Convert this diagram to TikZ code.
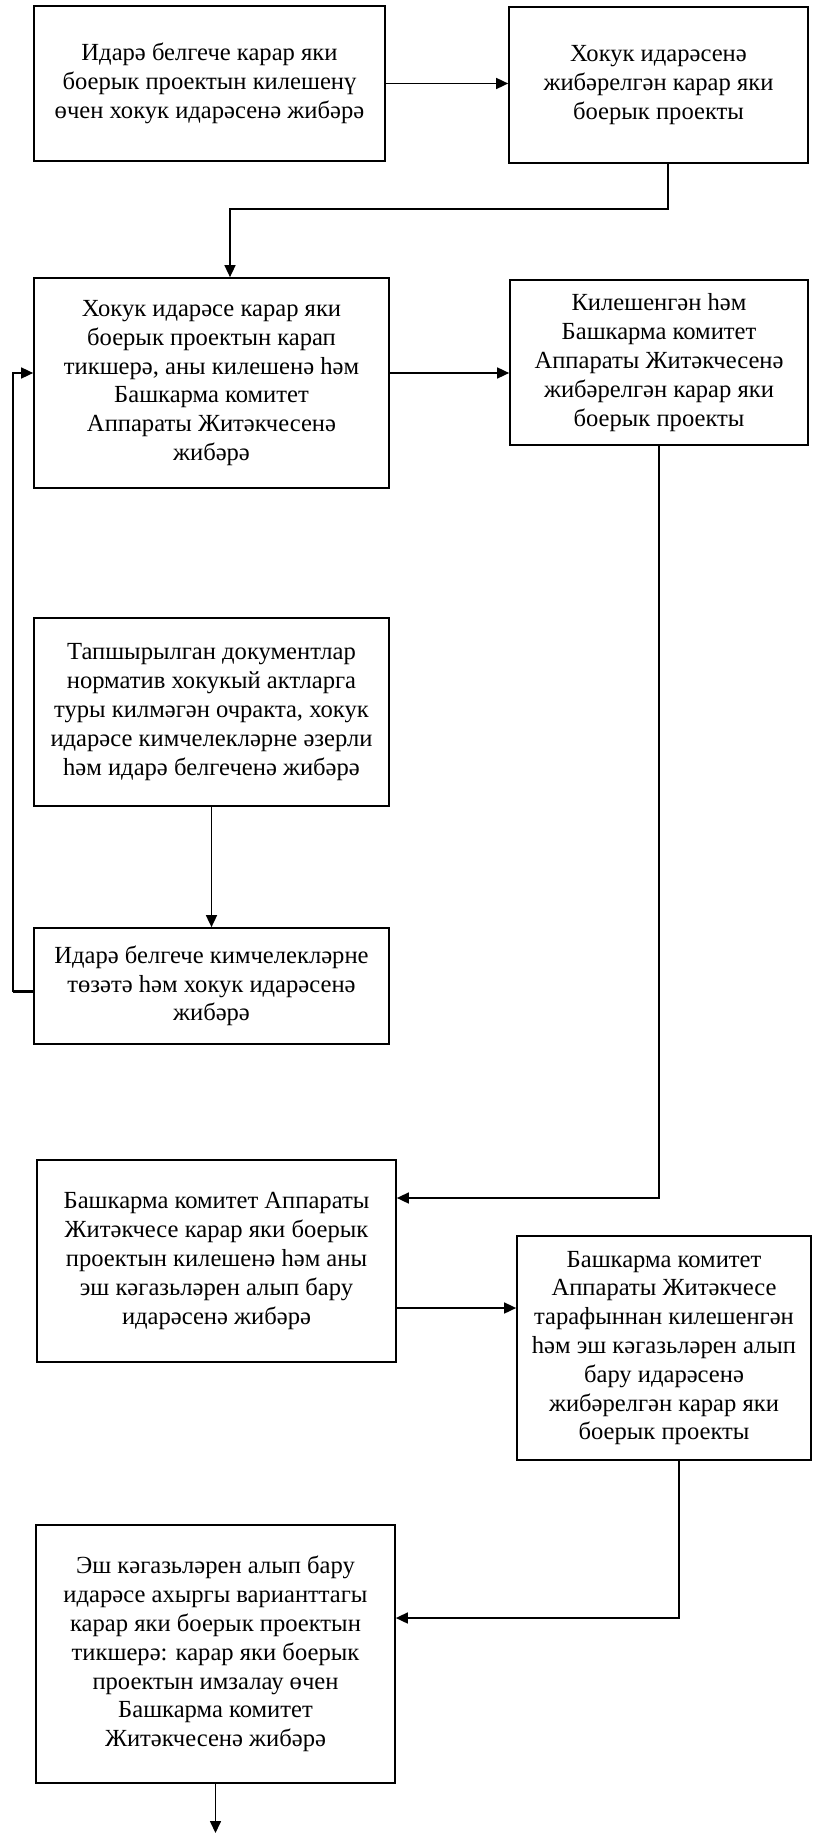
\documentclass[tikz,border=0pt]{standalone}
\usepackage{fontspec}
\setmainfont{Liberation Serif}
\usetikzlibrary{arrows.meta}
\begin{document}
\begin{tikzpicture}[x=0.5pt,y=-0.5pt,
  box/.style={draw=black, line width=0.85pt, align=center, inner sep=2pt,
    font=\fontsize{12.3}{14.4}\selectfont},
  arr/.style={draw=black, line width=0.8pt, -{Triangle[length=6pt,width=5.5pt]}}]
\useasboundingbox[fill=white] (0,0) rectangle (813,1834);

\node[box, minimum width=175.5pt, minimum height=77.5pt] (B1) at (209.5,83.5)
  {Идарә белгече карар яки\\боерык проектын килешенү\\өчен хокук идарәсенә жибәрә};
\node[box, minimum width=149.5pt, minimum height=78pt] (B2) at (658.5,85)
  {Хокук идарәсенә\\жибәрелгән карар яки\\боерык проекты};
\node[box, minimum width=177.5pt, minimum height=105pt] (B3) at (211.5,383)
  {Хокук идарәсе карар яки\\боерык проектын карап\\тикшерә, аны килешенә һәм\\Башкарма комитет\\Аппараты Житәкчесенә\\жибәрә};
\node[box, minimum width=149pt, minimum height=82.5pt] (B4) at (659,362.5)
  {Килешенгән һәм\\Башкарма комитет\\Аппараты Житәкчесенә\\жибәрелгән карар яки\\боерык проекты};
\node[box, minimum width=177.5pt, minimum height=94pt] (B5) at (211.5,712)
  {Тапшырылган документлар\\норматив хокукый актларга\\туры килмәгән очракта, хокук\\идарәсе кимчелекләрне әзерли\\һәм идарә белгеченә жибәрә};
\node[box, minimum width=177.5pt, minimum height=58pt] (B6) at (211.5,986)
  {Идарә белгече кимчелекләрне\\төзәтә һәм хокук идарәсенә\\жибәрә};
\node[box, minimum width=179.5pt, minimum height=101pt] (B7) at (216.5,1261)
  {Башкарма комитет Аппараты\\Житәкчесе карар яки боерык\\проектын килешенә һәм аны\\эш кәгазьләрен алып бару\\идарәсенә жибәрә};
\node[box, minimum width=147pt, minimum height=112pt] (B8) at (664,1348)
  {Башкарма комитет\\Аппараты Житәкчесе\\тарафыннан килешенгән\\һәм эш кәгазьләрен алып\\бару идарәсенә\\жибәрелгән карар яки\\боерык проекты};
\node[box, minimum width=179.5pt, minimum height=129pt] (B9) at (215.5,1654)
  {Эш кәгазьләрен алып бару\\идарәсе ахыргы варианттагы\\карар яки боерык проектын\\тикшерә: карар яки боерык\\проектын имзалау өчен\\Башкарма комитет\\Житәкчесенә жибәрә};

% helper coordinates
\coordinate (k1) at (668,209);
\coordinate (k2) at (230,0);
\coordinate (y373) at (0,373);
\coordinate (fb1) at (13,991);
\coordinate (fb2) at (13,373);
\coordinate (y991) at (0,991);
\coordinate (y1198) at (0,1198);
\coordinate (y1308) at (0,1308);
\coordinate (k3) at (679,1618);
\coordinate (endp) at (212,1833);

% connectors
\draw[arr] (B1.east) -- (B1.east -| B2.west);
\draw[arr] (B2.south -| k1) -- (k1) -| (B3.north -| k2);
\draw[arr] (B3.east |- y373) -- (B4.west |- y373);
\draw[arr] (B6.west |- y991) -- (fb1) -- (fb2) -- (B3.west |- y373);
\draw[line width=1.5pt] (B6.west |- y991) -- (fb1);
\draw[arr] (B5.south) -- (B6.north);
\draw[arr] (B4.south) |- (B7.east |- y1198);
\draw[arr] (B7.east |- y1308) -- (B8.west |- y1308);
\draw[arr] (B8.south -| k3) -- (k3) -- (B9.east |- k3);
\draw[arr] (B9.south) -- (B9.south |- endp);
\end{tikzpicture}
\end{document}
